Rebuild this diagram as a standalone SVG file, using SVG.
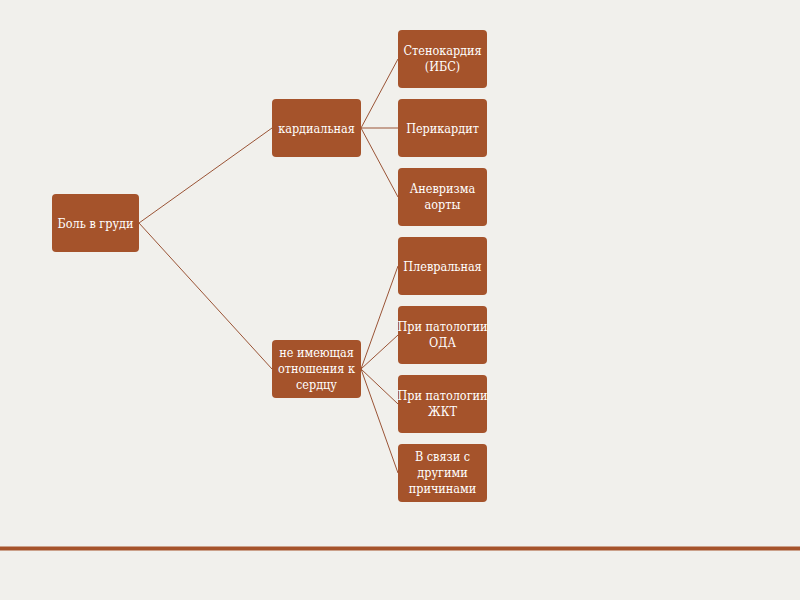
<svg xmlns="http://www.w3.org/2000/svg" width="800" height="600" viewBox="0 0 800 600">
<style>
.n rect{fill:#A5532B;}
.n text{fill:#ffffff;font-family:"DejaVu Serif Condensed","Liberation Serif",serif;font-size:12.5px;text-anchor:middle;}
.c line{stroke:#9A5436;stroke-width:1;}
</style>
<rect x="0" y="0" width="800" height="600" fill="#F1F0EC"/>
<rect x="0" y="546.5" width="800" height="4" fill="#A5532B"/>
<g class="c">
<line x1="139" y1="223" x2="272" y2="128"/>
<line x1="139" y1="223" x2="272" y2="369"/>
<line x1="361" y1="128" x2="398" y2="59"/>
<line x1="361" y1="128" x2="398" y2="128"/>
<line x1="361" y1="128" x2="398" y2="197"/>
<line x1="361" y1="369" x2="398" y2="266"/>
<line x1="361" y1="369" x2="398" y2="335"/>
<line x1="361" y1="369" x2="398" y2="404"/>
<line x1="361" y1="369" x2="398" y2="473"/>
</g>
<g id="n0" class="n"><rect x="52" y="194" width="87" height="58" rx="4"/><text x="95.5" y="227.5">Боль в груди</text></g>
<g id="n1" class="n"><rect x="272" y="99" width="89" height="58" rx="4"/><text x="316.5" y="132.5">кардиальная</text></g>
<g id="n2" class="n"><rect x="272" y="340" width="89" height="58" rx="4"/><text x="316.5" y="357">не имеющая</text><text x="316.5" y="373">отношения к</text><text x="316.5" y="389">сердцу</text></g>
<g id="n3" class="n"><rect x="398" y="30" width="89" height="58" rx="4"/><text x="442.5" y="55">Стенокардия</text><text x="442.5" y="71">(ИБС)</text></g>
<g id="n4" class="n"><rect x="398" y="99" width="89" height="58" rx="4"/><text x="442.5" y="132.5">Перикардит</text></g>
<g id="n5" class="n"><rect x="398" y="168" width="89" height="58" rx="4"/><text x="442.5" y="193">Аневризма</text><text x="442.5" y="209">аорты</text></g>
<g id="n6" class="n"><rect x="398" y="237" width="89" height="58" rx="4"/><text x="442.5" y="270.5">Плевральная</text></g>
<g id="n7" class="n"><rect x="398" y="306" width="89" height="58" rx="4"/><text x="442.5" y="331">При патологии</text><text x="442.5" y="347">ОДА</text></g>
<g id="n8" class="n"><rect x="398" y="375" width="89" height="58" rx="4"/><text x="442.5" y="400">При патологии</text><text x="442.5" y="416">ЖКТ</text></g>
<g id="n9" class="n"><rect x="398" y="444" width="89" height="58" rx="4"/><text x="442.5" y="461">В связи с</text><text x="442.5" y="477">другими</text><text x="442.5" y="493">причинами</text></g>
</svg>
